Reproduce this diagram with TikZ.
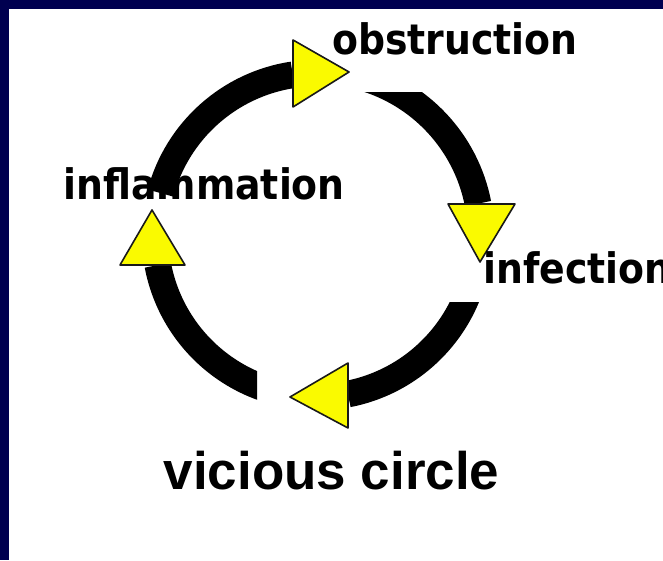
\documentclass[tikz,border=0pt]{standalone}
\usepackage{fontspec}
\usetikzlibrary{positioning}
\usetikzlibrary{calc}
\newfontfamily\labelfont{DejaVu Sans}[FakeStretch=0.9]
\newfontfamily\titlefont{Liberation Sans}
\definecolor{navy}{RGB}{0,0,80}
\definecolor{yellow}{RGB}{250,250,0}

\begin{document}
\begin{tikzpicture}[x=0.75pt, y=0.75pt,
    band/.style={line width=20pt, black},
    tri/.style={fill=yellow, draw=black!90, line width=1.2pt, line join=round},
    word/.style={inner sep=0pt, anchor=base west, font=\labelfont\bfseries\fontsize{31.5}{36}\selectfont}]
    \useasboundingbox (0,0) rectangle (663,560);
    \fill[navy] (0,0) rectangle (663,560);
    \fill[white] (9,0) rectangle (663,551);
    \coordinate (c) at (317,325);
    % the four pieces of the circle
    \draw[band] ($(c)+(165:162)$) arc[start angle=165, end angle=98.6, radius=162];
    \begin{scope}
        \clip (0,0) rectangle (663,467);
        \draw[band] ($(c)+(75:164)$) arc[start angle=75, end angle=11, radius=164];
    \end{scope}
    \begin{scope}
        \clip (0,0) rectangle (663,257);
        \draw[band] ($(c)+(-10:162)$) arc[start angle=-10, end angle=-79, radius=162];
    \end{scope}
    \begin{scope}
        \clip (0,0) rectangle (257,560);
        \draw[band] ($(c)+(-95:162)$) arc[start angle=-95, end angle=-169.3, radius=162];
    \end{scope}
    % arrow heads
    \draw[tri] (293,453) -- (349,488) -- (293,520) -- cycle;
    \draw[tri] (448,356) -- (515,356) -- (480,298) -- cycle;
    \draw[tri] (348,197) -- (290,163) -- (348,132) -- cycle;
    \draw[tri] (120,295) -- (152,350) -- (185,295) -- cycle;
    % labels
    \node[word] (obstruction) at (332,505) {obstruction};
    \node[word] (inflammation) at (63,360) {inflammation};
    \node[word] (infection) at (483,276) {infection};
    \node[inner sep=0pt, anchor=base, font=\titlefont\bfseries\fontsize{39.7}{44}\selectfont] (title) at (331.5,70) {vicious circle};
\end{tikzpicture}
\end{document}
